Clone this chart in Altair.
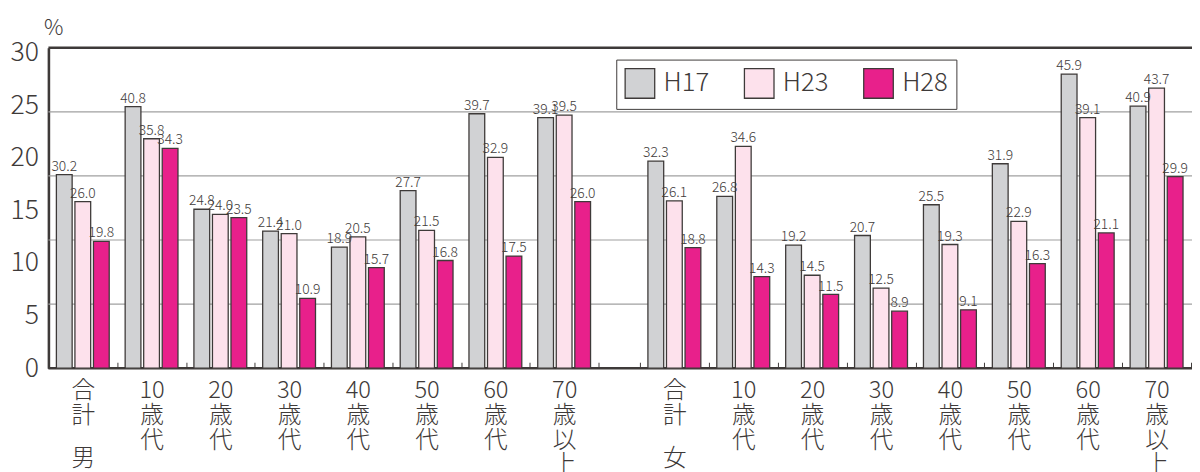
import json
import altair as alt
import pandas as pd

# ---- data ----
ages = ["合計", "10歳代", "20歳代", "30歳代", "40歳代", "50歳代", "60歳代", "70歳以上"]
series = ["H17", "H23", "H28"]

male_h17 = [30.2, 40.8, 24.8, 21.4, 18.9, 27.7, 39.7, 39.1]
male_h23 = [26.0, 35.8, 24.0, 21.0, 20.5, 21.5, 32.9, 39.5]
male_h28 = [19.8, 34.3, 23.5, 10.9, 15.7, 16.8, 17.5, 26.0]

female_h17 = [32.3, 26.8, 19.2, 20.7, 25.5, 31.9, 45.9, 40.9]
female_h23 = [26.1, 34.6, 14.5, 12.5, 19.3, 22.9, 39.1, 43.7]
female_h28 = [18.8, 14.3, 11.5, 8.9, 9.1, 16.3, 21.1, 29.9]

y_tick_labels = [0, 5, 10, 15, 20, 25, 30]
grid_values = [0, 10, 20, 30, 40, 50]

rows = []
for sex, arrs in (("男", [male_h17, male_h23, male_h28]),
                  ("女", [female_h17, female_h23, female_h28])):
    for s, arr in zip(series, arrs):
        for a, v in zip(ages, arr):
            rows.append({"sex": sex, "age": a, "series": s, "value": v})
df = pd.DataFrame(rows)
grid_df = pd.DataFrame({"g": grid_values})

INK = "#3e3a39"
FONT = "Noto Sans CJK JP"
colors = ["#d1d2d4", "#fde1ec", "#e8208b"]
Y_SCALE = alt.Scale(domain=[0, 50], nice=False)


def label_lines(age):
    if age == "合計":
        return ["合", "計"]
    return [age[:2]] + list(age[2:])


def label_expr():
    expr = ""
    for a in ages:
        expr += "datum.value === %s ? %s : " % (
            json.dumps(a, ensure_ascii=False),
            json.dumps(label_lines(a), ensure_ascii=False))
    return expr + "datum.label"


legend = alt.Legend(
    orient="none", legendX=576, legendY=12, direction="horizontal", title=None,
    symbolType="square", symbolSize=900, symbolStrokeColor=INK, symbolStrokeWidth=1.3,
    symbolOpacity=1, labelFontSize=26, labelFont=FONT, labelFontWeight=300,
    labelColor=INK, labelOffset=8,
    columnPadding=32, padding=8, strokeColor=INK, fillColor="white",
)

y_axis_labels = alt.Axis(
    orient="left", values=[v * 1.64 for v in y_tick_labels],
    labelExpr="format(datum.value / 1.64, '.0f')",
    grid=False, ticks=False, domain=True, domainColor=INK, domainWidth=2.6,
    labelFontSize=27, labelFont=FONT, labelFontWeight=300, labelColor=INK,
    labelPadding=10,
    title="%", titleAngle=0, titleX=5, titleY=-20, titleFontSize=22,
    titleFontWeight=300, titleFont=FONT, titleColor=INK,
    titleAlign="center", titleBaseline="middle",
)

edge_test = "datum.g === 0 || datum.g === 50"
grid = alt.Chart(grid_df).mark_rule().encode(
    y=alt.Y("g:Q", scale=Y_SCALE, axis=y_axis_labels),
    color=alt.condition(edge_test, alt.value(INK), alt.value("#a0a0a0")),
    strokeWidth=alt.condition(edge_test, alt.value(2.6), alt.value(1.2)),
)


def panel(sex, x_range):
    band_center = x_range[0] + (x_range[1] - x_range[0]) / len(ages) / 2
    base = alt.Chart(df[df.sex == sex]).encode(
        x=alt.X(
            "age:N", sort=ages,
            scale=alt.Scale(domain=ages, range=x_range, paddingInner=0, paddingOuter=0),
            axis=alt.Axis(
                orient="bottom", offset=-6, domain=False, tickBand="extent",
                tickSize=6, tickColor=INK, tickWidth=1, labelAngle=0,
                labelExpr=label_expr(), labelFontSize=24, labelFont=FONT,
                labelFontWeight=300, labelColor=INK, labelLineHeight=25,
                labelPadding=11, labelBaseline="top", labelOverlap=False,
                title=sex, titleX=band_center, titleY=98, titleAngle=0,
                titleAlign="center", titleBaseline="middle", titleFontSize=24,
                titleFont=FONT, titleFontWeight=300, titleColor=INK,
            ),
        ),
        xOffset=alt.XOffset(
            "series:N", sort=series,
            scale=alt.Scale(domain=series, paddingInner=0.15, paddingOuter=0.43),
        ),
        y=alt.Y("value:Q", scale=Y_SCALE, axis=y_axis_labels),
    )
    bars = base.mark_bar(stroke=INK, strokeWidth=1.3).encode(
        color=alt.Color("series:N", sort=series,
                        scale=alt.Scale(domain=series, range=colors), legend=legend)
    )
    text = base.mark_text(
        fontSize=14, font=FONT, fontWeight=300,
        color=INK, baseline="alphabetic", dy=-4
    ).encode(text=alt.Text("value:Q", format=".1f"))
    return alt.layer(bars, text)


men = panel("男", [0, 558])
women = panel("女", [600, 1159])

chart = (
    alt.layer(grid, men, women)
    .resolve_scale(x="independent", xOffset="independent")
    .resolve_axis(x="independent")
    .properties(
        width=1160, height=325,
        autosize=alt.AutoSizeParams(type="none"),
        padding={"left": 41, "top": 37, "right": 0, "bottom": 102},
    )
    .configure_view(strokeWidth=0)
)

chart.save("out.html", embed_options={"renderer": "svg", "actions": False})
